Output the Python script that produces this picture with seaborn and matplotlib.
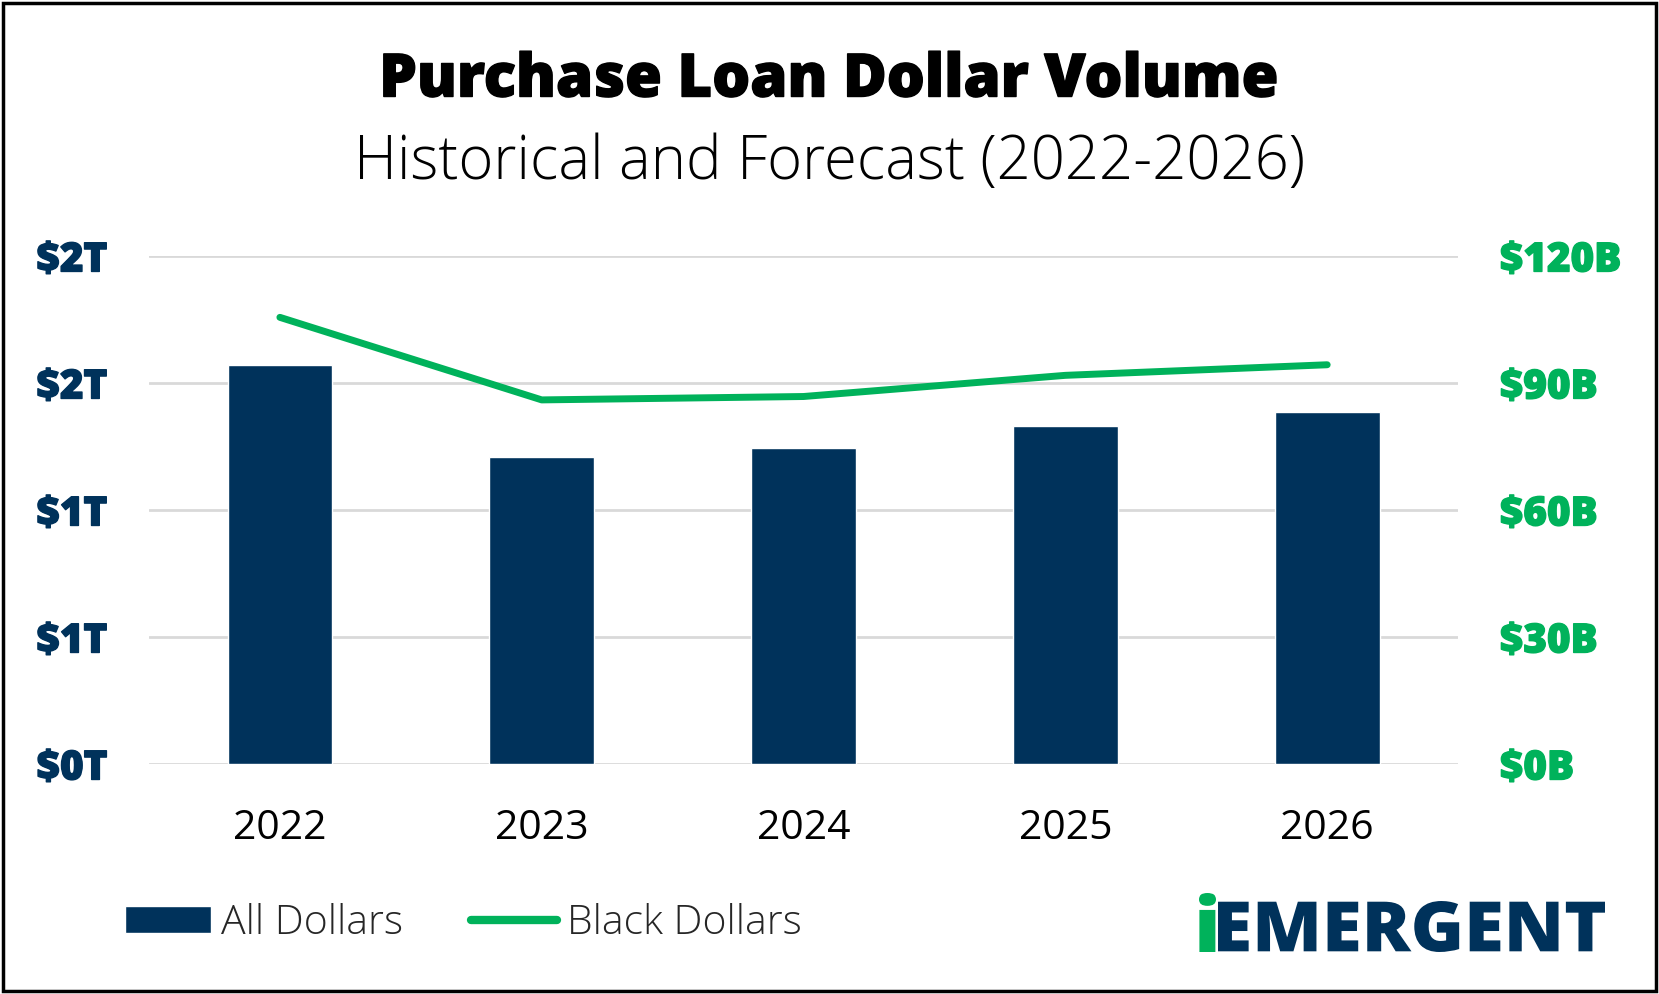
import numpy as np
import pandas as pd
import seaborn as sns
import matplotlib.pyplot as plt
from matplotlib.patches import Rectangle, Patch, PathPatch
from matplotlib.lines import Line2D
from matplotlib.textpath import TextPath
from matplotlib.font_manager import FontProperties
from matplotlib.transforms import Affine2D, IdentityTransform
import matplotlib.patheffects as pe

# Dati (lettura dal grafico)
years = ["2022", "2023", "2024", "2025", "2026"]
all_dollars = [1.57, 1.21, 1.245, 1.33, 1.385]     # trilioni
black_dollars = [105.5, 86.0, 86.8, 91.8, 94.3]    # miliardi

left_ticks = [0, 0.5, 1.0, 1.5, 2.0]
left_labels = ["$0T", "$1T", "$1T", "$2T", "$2T"]
right_ticks = [0, 30, 60, 90, 120]
right_labels = ["$0B", "$30B", "$60B", "$90B", "$120B"]

navy = "#00325B"
green = "#00B25B"
grid_col = "#D9D9D9"

sns.set_theme(style="white")
plt.rcParams["font.family"] = ["Open Sans", "DejaVu Sans"]

df = pd.DataFrame({"year": years, "all": all_dollars, "black": black_dollars})
df["pos"] = np.arange(len(df))

W, H = 1659, 994
fig = plt.figure(figsize=(W / 100, H / 100), dpi=100)
ax = fig.add_axes([0.0898, 0.2314, 0.7891, 0.5111])

def thick(color, w=1.0):
    return [pe.withStroke(linewidth=w, foreground=color)]

sns.barplot(data=df, x="year", y="all", color=navy, width=0.4, saturation=1, ax=ax)
ax.set_ylim(0, 2.0)
ax.set_xlim(-0.5, 4.5)
ax.set_yticks(left_ticks)
ax.set_yticklabels(left_labels, color=navy, fontsize=29, fontweight="heavy")
for lab in ax.get_yticklabels():
    lab.set_path_effects(thick(navy))
ax.tick_params(axis="y", length=0, pad=30)
ax.tick_params(axis="x", length=0, pad=32)
for lab in ax.get_xticklabels():
    lab.set_fontsize(29.5)
    lab.set_color("black")
ax.yaxis.grid(True, color=grid_col, linewidth=2)
ax.set_axisbelow(True)
ax.set_xlabel("")
ax.set_ylabel("")
for s in ax.spines.values():
    s.set_visible(False)

ax2 = ax.twinx()
sns.lineplot(data=df, x="pos", y="black", color=green, linewidth=5, ax=ax2,
             solid_capstyle="round")
ax2.set_ylim(0, 120)
ax2.set_xlim(-0.5, 4.5)
ax2.set_yticks(right_ticks)
ax2.set_yticklabels(right_labels, color=green, fontsize=29, fontweight="heavy")
for lab in ax2.get_yticklabels():
    lab.set_path_effects(thick(green))
ax2.tick_params(axis="y", length=0, pad=30)
ax2.set_xlabel("")
ax2.set_ylabel("")
for s in ax2.spines.values():
    s.set_visible(False)

# Titoli
fig.text(0.5, 0.919, "Purchase Loan Dollar Volume", ha="center", va="center",
         fontsize=43, fontweight="heavy", color="black", path_effects=thick("black", 1.0))
fig.text(0.5, 0.836, "Historical and Forecast (2022-2026)", ha="center", va="center",
         fontsize=43, fontweight="light", color="black")

# Legenda
handles = [Patch(facecolor=navy, label="All Dollars"),
           Line2D([0], [0], color=green, linewidth=6, solid_capstyle="round", label="Black Dollars")]
fig.legend(handles=handles, loc="center left", bbox_to_anchor=(0.053, 0.071), ncol=2,
           frameon=False, prop={"size": 29.5, "weight": "light"},
           handlelength=2.1, handleheight=0.65, handletextpad=0.25, columnspacing=1.65)

# Logo (testo scalato nel riquadro in pixel)
def logo_text(s, color, x0, x1, y0, y1):
    tp = TextPath((0, 0), s, size=1, prop=FontProperties(family="Open Sans", weight="heavy"))
    ext = tp.get_extents()
    tr = Affine2D().translate(-ext.x0, -ext.y0).scale((x1 - x0) / ext.width,
                                                      (y1 - y0) / ext.height).translate(x0, y0)
    fig.patches.append(PathPatch(tr.transform_path(tp), facecolor=color, edgecolor="none",
                                 transform=IdentityTransform()))

logo_text("i", green, 1199, 1216, H - 952, H - 893)
logo_text("EMERGENT", navy, 1218, 1605, H - 952, H - 901)

# Cornice
fig.patches.append(Rectangle((0.002, 0.003), 0.996, 0.994, transform=fig.transFigure,
                             fill=False, edgecolor="black", linewidth=2.5))

plt.savefig("out.png", dpi=100)
